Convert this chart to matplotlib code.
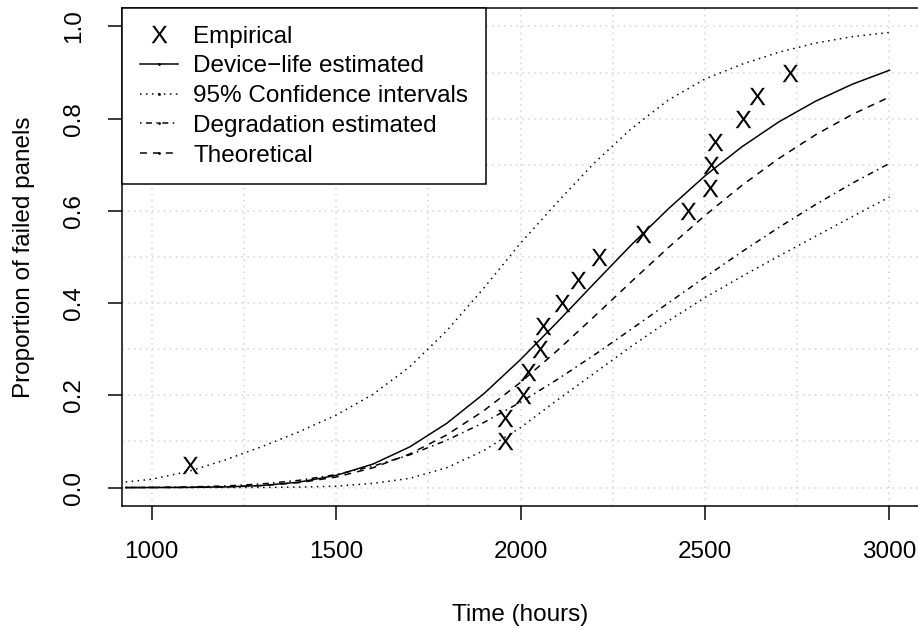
import numpy as np
import matplotlib
matplotlib.use("Agg")
import matplotlib.pyplot as plt
from matplotlib.lines import Line2D
from matplotlib.ticker import MultipleLocator

plt.rcParams['font.family'] = ['Liberation Sans', 'DejaVu Sans']
plt.rcParams['mathtext.fontset'] = 'custom'
plt.rcParams['mathtext.rm'] = 'Liberation Sans'
plt.rcParams['lines.scale_dashes'] = False

# empirical failure proportions
emp_time = [1103, 1958, 1958, 2006, 2021, 2053, 2062, 2112, 2155, 2213,
            2333, 2453, 2514, 2516, 2527, 2602, 2642, 2731]
emp_prop = [0.05, 0.10, 0.15, 0.20, 0.25, 0.30, 0.35, 0.40, 0.45, 0.50,
            0.55, 0.60, 0.65, 0.70, 0.75, 0.80, 0.85, 0.90]

# curves
t = [930, 1000, 1100, 1200, 1300, 1400, 1500, 1600, 1700, 1800, 1900,
     2000, 2100, 2200, 2300, 2400, 2500, 2600, 2700, 2800, 2900, 3000]
device_life = [0.0, 0.0001, 0.0004, 0.0014, 0.0045, 0.0118, 0.0263, 0.0509, 0.0882, 0.1392, 0.2030,
               0.2776, 0.359, 0.443, 0.526, 0.604, 0.676, 0.739, 0.793, 0.838, 0.875, 0.905]
ci_upper = [0.012, 0.018, 0.035, 0.060, 0.089, 0.121, 0.157, 0.202, 0.262, 0.340, 0.432,
            0.530, 0.619, 0.704, 0.778, 0.840, 0.886, 0.918, 0.944, 0.964, 0.978, 0.987]
ci_lower = [0.0, 0.0, 0.0, 0.0, 0.0002, 0.001, 0.003, 0.009, 0.020, 0.043, 0.080,
            0.130, 0.190, 0.248, 0.306, 0.361, 0.412, 0.458, 0.502, 0.545, 0.588, 0.630]
degradation = [0.0, 0.0004, 0.0013, 0.0035, 0.0079, 0.0157, 0.0281, 0.0463, 0.0710, 0.1025, 0.1408,
               0.1851, 0.2345, 0.2876, 0.3433, 0.3999, 0.4562, 0.5114, 0.5641, 0.6139, 0.6603, 0.703]
theoretical = [0.0, 0.0001, 0.0004, 0.0015, 0.0043, 0.0107, 0.0227, 0.0428, 0.0729, 0.1141, 0.1663,
               0.228, 0.2973, 0.371, 0.4462, 0.520, 0.590, 0.6553, 0.7137, 0.7652, 0.8095, 0.847]

lw = 1.08
dotted = (0, (1.1, 3.2))
dashed = (0, (5.0, 4.3))
dotdash = (0, (1.1, 3.2, 4.3, 3.2))

fig = plt.figure(figsize=(9.18, 6.28), dpi=100)
ax = fig.add_axes([122/918, 1-506/628, 797/918, 498/628])

ax.set_xlim(920, 3080)
ax.set_ylim(-0.04, 1.04)
ax.xaxis.set_major_locator(MultipleLocator(500))
ax.xaxis.set_minor_locator(MultipleLocator(250))
ax.yaxis.set_major_locator(MultipleLocator(0.2))
ax.yaxis.set_minor_locator(MultipleLocator(0.1))
ax.set_yticks([0, 0.2, 0.4, 0.6, 0.8, 1.0])
ax.set_yticklabels(['0.0', '0.2', '0.4', '0.6', '0.8', '1.0'], rotation=90, va='center')
ax.set_xticks([1000, 1500, 2000, 2500, 3000])
ax.grid(True, which='both', color='#D3D3D3', linestyle=(0, (1.1, 3.2)), linewidth=lw)
ax.set_axisbelow(True)

ax.tick_params(which='major', direction='out', length=10, width=lw, labelsize=17.5, color='black')
ax.tick_params(axis='x', which='major', pad=15.5)
ax.tick_params(axis='y', which='major', pad=16.5)
ax.tick_params(which='minor', length=0)
for s in ax.spines.values():
    s.set_linewidth(lw)

ax.plot(t, device_life, color='black', lw=lw, linestyle='-')
ax.plot(t, ci_upper, color='black', lw=lw, linestyle=dotted)
ax.plot(t, ci_lower, color='black', lw=lw, linestyle=dotted)
ax.plot(t, degradation, color='black', lw=lw, linestyle=dotdash)
ax.plot(t, theoretical, color='black', lw=lw, linestyle=dashed)
ax.plot(emp_time, emp_prop, linestyle='none', marker=r'$\mathrm{X}$', markersize=12.5,
        color='black', markeredgewidth=0)

handles = [
    Line2D([], [], linestyle='none', marker=r'$\mathrm{X}$', markersize=12.5, color='black', markeredgewidth=0),
    Line2D([], [], color='black', lw=lw, linestyle='-', marker='.', markersize=2),
    Line2D([], [], color='black', lw=lw, linestyle=dotted, marker='.', markersize=2),
    Line2D([], [], color='black', lw=lw, linestyle=dotdash, marker='.', markersize=2),
    Line2D([], [], color='black', lw=lw, linestyle=dashed, marker='.', markersize=2),
]
labels = ['Empirical', 'Device\u2212life estimated', '95% Confidence intervals',
          'Degradation estimated', 'Theoretical']
leg = ax.legend(handles, labels, loc='upper left', bbox_to_anchor=(0, 1), borderaxespad=0,
                fontsize=17.5, frameon=True, fancybox=False, edgecolor='black', framealpha=1,
                numpoints=1, handlelength=1.6, handletextpad=0.62, labelspacing=0.32,
                borderpad=0.72)
leg.get_frame().set_linewidth(lw)

ax.set_xlabel('Time (hours)', fontsize=17.5, va='baseline')
ax.xaxis.set_label_coords(520.5/918, 1-621/628, transform=fig.transFigure)
ax.set_ylabel('Proportion of failed panels', fontsize=17.5, va='baseline')
ax.yaxis.set_label_coords(30/918, 1-257/628, transform=fig.transFigure)

fig.savefig('out.png', dpi=100)
